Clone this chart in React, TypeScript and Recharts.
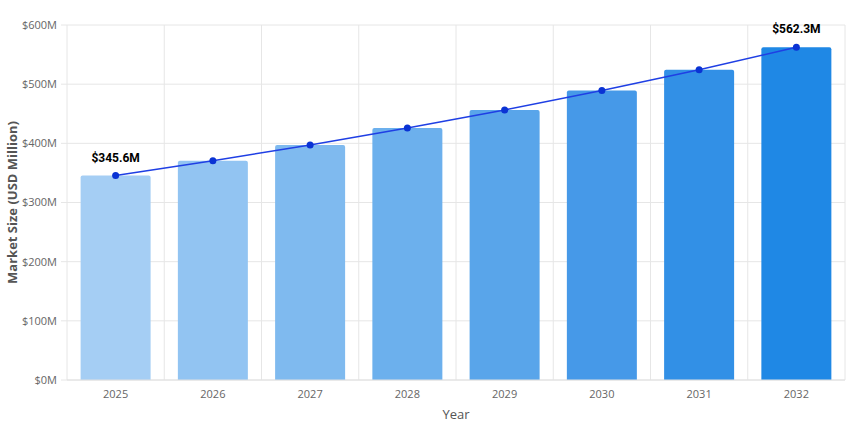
import {
  ComposedChart,
  Bar,
  Line,
  Cell,
  XAxis,
  YAxis,
  CartesianGrid,
  LabelList,
  Label,
} from 'recharts';

const years = ['2025', '2026', '2027', '2028', '2029', '2030', '2031', '2032'];
const marketSize = [345.6, 370.5, 397.2, 425.8, 456.4, 489.3, 524.5, 562.3];
const yTicks = [0, 100, 200, 300, 400, 500, 600];

const barColors = ['#a5cef4', '#92c4f2', '#7fbaef', '#6cb0ed', '#59a5ea', '#4699e8', '#3290e6', '#1f88e5'];

const data = years.map((year, i) => ({ year, value: marketSize[i], idx: i + 0.5 }));
const boundaries = [...years.map((_, i) => i), years.length];

const tickStyle = { fill: '#666', fontSize: 11, fontFamily: 'Open Sans, sans-serif' };

function EndLabel(props: any) {
  const { x, y, index, value } = props;
  if (index !== 0 && index !== marketSize.length - 1) return null;
  return (
    <text
      x={x}
      y={y - 14}
      textAnchor="middle"
      fontSize={12}
      fontWeight="bold"
      fontFamily="Roboto, sans-serif"
      fill="#000"
    >
      {`$${value}M`}
    </text>
  );
}

function YTitle(props: any) {
  const { viewBox } = props;
  const cx = viewBox.x + 12;
  const cy = viewBox.y + viewBox.height / 2;
  return (
    <text
      x={cx}
      y={cy}
      transform={`rotate(-90, ${cx}, ${cy})`}
      textAnchor="middle"
      dominantBaseline="central"
      fontSize={13}
      fontWeight="bold"
      fontFamily="Open Sans, sans-serif"
      fill="#555"
    >
      Market Size (USD Million)
    </text>
  );
}

export default function App() {
  return (
    <div style={{ position: 'absolute', left: 0, top: 0, background: '#fff' }}>
      <ComposedChart
        width={850}
        height={425}
        data={data}
        margin={{ top: 25, right: 5, bottom: 0, left: 0 }}
        barCategoryGap="14%"
      >
        <CartesianGrid stroke="#e6e6e6" xAxisId="grid" />
        <XAxis
          xAxisId="grid"
          dataKey="idx"
          type="number"
          domain={[0, years.length]}
          ticks={boundaries}
          height={0}
          axisLine={false}
          tickLine={{ stroke: '#e6e6e6' }}
          tickSize={6}
          tickFormatter={() => ''}
        />
        <XAxis
          dataKey="year"
          height={45}
          axisLine={{ stroke: '#e0e0e0' }}
          tickLine={false}
          tickSize={8}
          tickMargin={2}
          tick={tickStyle}
        >
          <Label
            value="Year"
            position="insideBottom"
            offset={6}
            style={{ fill: '#555', fontSize: 13, fontFamily: 'Open Sans, sans-serif' }}
          />
        </XAxis>
        <YAxis
          width={67}
          domain={[0, 600]}
          ticks={yTicks}
          tickFormatter={(v) => `$${v}M`}
          axisLine={false}
          tickLine={{ stroke: '#e6e6e6' }}
          tickSize={6}
          tickMargin={4}
          tick={tickStyle}
        >
          <Label content={<YTitle />} />
        </YAxis>
        <Bar dataKey="value" radius={[2, 2, 0, 0]} isAnimationActive={false}>
          {data.map((d, i) => (
            <Cell key={d.year} fill={barColors[i]} />
          ))}
        </Bar>
        <Line
          type="linear"
          dataKey="value"
          stroke="#1f3fe4"
          strokeWidth={1.5}
          dot={{ r: 3.5, fill: '#0a33d4', stroke: 'none' }}
          isAnimationActive={false}
        >
          <LabelList dataKey="value" content={<EndLabel />} />
        </Line>
      </ComposedChart>
    </div>
  );
}
